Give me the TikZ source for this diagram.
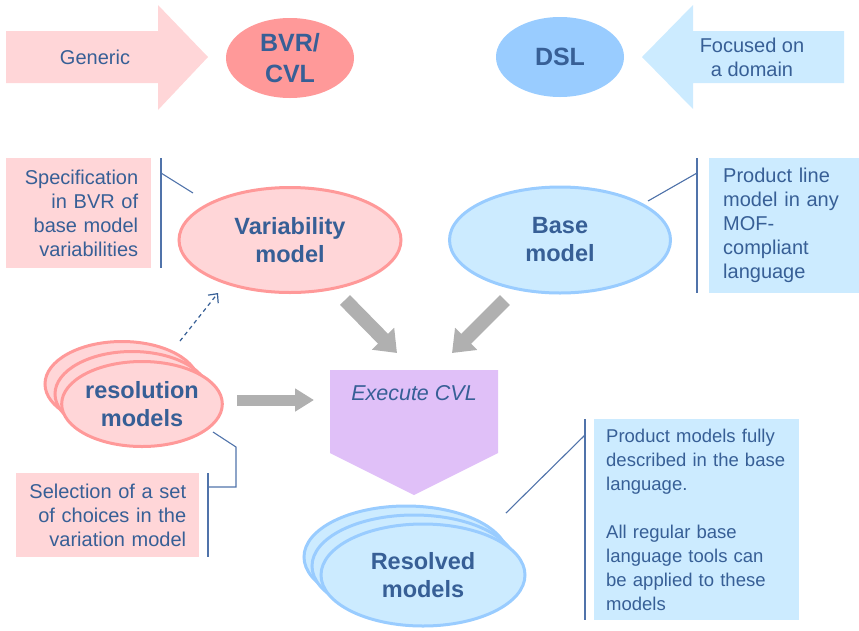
\documentclass[tikz,border=0pt]{standalone}
\usepackage{fontspec}
\setmainfont{Liberation Sans}
\usetikzlibrary{shapes.geometric,arrows.meta}
\definecolor{txtblue}{RGB}{55,95,150}
\definecolor{pinkfill}{RGB}{255,214,216}
\definecolor{salmon}{RGB}{255,153,153}
\definecolor{skyfill}{RGB}{204,235,255}
\definecolor{skyline}{RGB}{153,204,255}
\definecolor{lavender}{RGB}{224,192,248}
\definecolor{arrowgray}{RGB}{176,176,176}
\definecolor{leadblue}{RGB}{80,115,170}
\begin{document}
\begin{tikzpicture}[x=1pt,y=-1pt,
    every node/.style={text=txtblue},
    oval/.style={ellipse,inner sep=0pt,line width=3pt,align=center,
        font=\bfseries\fontsize{23.5}{28}\selectfont},
    pinkoval/.style={oval,draw=salmon,fill=pinkfill},
    skyoval/.style={oval,draw=skyline,fill=skyfill},
    topoval/.style={ellipse,inner sep=0pt,align=center,minimum width=128pt,
        minimum height=80pt,font=\bfseries\fontsize{25}{31}\selectfont},
    note/.style={font=\fontsize{20}{24}\selectfont,inner sep=0pt,align=center},
    notebox/.style={note,inner xsep=13pt,inner ysep=0pt,anchor=north west},
    leader/.style={draw=leadblue,line width=1.1pt},
    fatarrow/.style={draw=arrowgray,line width=14pt,-{Triangle[width=30pt,length=20pt]}},
    ]
    \useasboundingbox (0,0) rectangle (859,630);
    \fill[pinkfill] (6,31) -- (158,31) -- (158,5) -- (208,57) -- (158,110)
        -- (158,83) -- (6,83) -- cycle;
    \node[note] (generic) at (95,57) {Generic};
    \fill[skyfill] (642,57) -- (693,5) -- (693,31) -- (844,31) -- (844,83)
        -- (693,83) -- (693,109) -- cycle;
    \node[note] (focused) at (752,57) {Focused on\\a domain};
    \node[topoval,fill=salmon] (bvr) at (290,58) {BVR/\\CVL};
    \node[topoval,fill=skyline] (dsl) at (560,57) {DSL};

    \node[pinkoval,minimum width=222pt,minimum height=105pt] (var) at (290,240) {Variability\\model};
    \node[skyoval,minimum width=221pt,minimum height=106pt] (base) at (560,240) {Base\\model};
    \node[notebox,fill=pinkfill,text width=119pt,minimum height=110pt,align=right]
        (spec) at (6,158) {Specification\\in BVR of\\base model\\variabilities};
    \node[notebox,inner xsep=14pt,fill=skyfill,text width=122pt,minimum height=135pt,align=left]
        (prodline) at (709,158) {Product line\\model in any\\MOF-\\compliant\\language};
    \draw[leader] (161,158) -- (161,268);
    \draw[leader] (161,173) -- (193,193);
    \draw[leader] (697,158) -- (697,293);
    \draw[leader] (697,173) -- (648,201);

    \fill[lavender] (330,370) -- (498,370) -- (498,453) -- (414,495) -- (330,453) -- cycle;
    \node[font=\itshape\fontsize{21.5}{26}\selectfont] (exec) at (414,393) {Execute CVL};

    \coordinate (vartail) at (345,300);
    \coordinate (varhead) at (397,353);
    \coordinate (basetail) at (505,300);
    \coordinate (basehead) at (452,353);
    \draw[fatarrow] (vartail) -- (varhead);
    \draw[fatarrow] (basetail) -- (basehead);

    \node[pinkoval,minimum width=154pt,minimum height=85pt] (res3) at (122,384) {};
    \node[pinkoval,minimum width=154pt,minimum height=85pt] (res2) at (132,394) {};
    \node[pinkoval,minimum width=154pt,minimum height=85pt] (res) at (142,404) {resolution\\models};
    \coordinate (restail) at (237,400);
    \coordinate (reshead) at (314,400);
    \draw[fatarrow,line width=11pt,-{Triangle[width=22pt,length=19pt]}] (restail) -- (reshead);
    \coordinate (dashtail) at (180,341);
    \coordinate (dashhead) at (218,293);
    \draw[draw=txtblue,line width=1.2pt,dash pattern=on 4pt off 3.5pt,
        -{Straight Barb[length=7pt,width=13pt]}] (dashtail) -- (dashhead);
    \node[notebox,fill=pinkfill,text width=157pt,minimum height=84pt,align=right]
        (select) at (16,473) {Selection of a set\\of choices in the\\variation model};
    \draw[leader] (208,473) -- (208,557);
    \draw[leader] (208,487) -- (236,487) -- (236,447) -- (213,432);

    \node[skyoval,minimum width=204pt,minimum height=102pt] (resolved3) at (406,557) {};
    \node[skyoval,minimum width=204pt,minimum height=102pt] (resolved2) at (414,566) {};
    \node[skyoval,minimum width=204pt,minimum height=102pt] (resolved) at (423,575) {Resolved\\models};
    \node[notebox,inner xsep=12pt,fill=skyfill,text width=181pt,minimum height=201pt,align=left,
        font=\fontsize{18.5}{24}\selectfont]
        (product) at (594,419) {Product models fully\\described in the base\\language.\\[24pt]All regular base\\language tools can\\be applied to these\\models};
    \draw[leader] (585,419) -- (585,620);
    \draw[leader] (585,435) -- (506,513);
\end{tikzpicture}
\end{document}
